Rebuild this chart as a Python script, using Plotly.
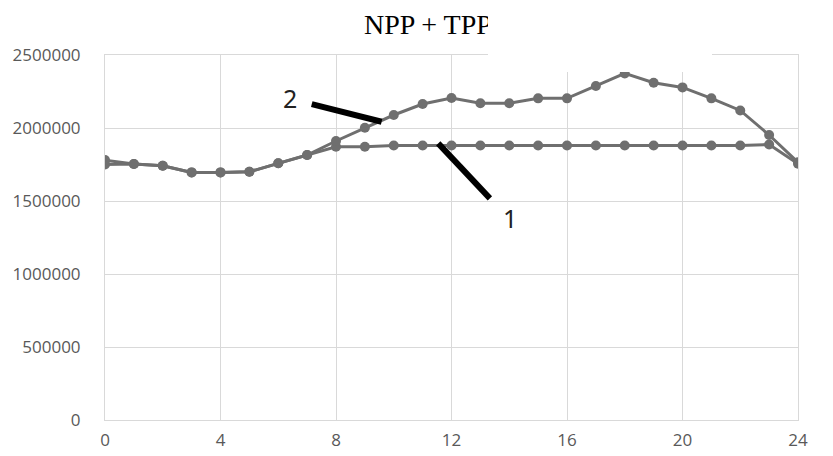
import plotly.graph_objects as go

hours = list(range(25))
series1 = [1750000, 1753000, 1742000, 1696000, 1696000, 1700000, 1758000, 1815000,
           1872000, 1872000, 1880000, 1880000, 1880000, 1880000, 1880000, 1880000,
           1880000, 1880000, 1880000, 1880000, 1880000, 1880000, 1880000, 1887000, 1755000]
series2 = [1780000, 1753000, 1742000, 1696000, 1696000, 1700000, 1758000, 1815000,
           1911000, 2002000, 2089000, 2164000, 2205000, 2169000, 2169000, 2203000,
           2203000, 2288000, 2374000, 2310000, 2278000, 2203000, 2120000, 1952000, 1765000]
y_ticks = [0, 500000, 1000000, 1500000, 2000000, 2500000]
x_ticks = [0, 4, 8, 12, 16, 20, 24]
title_text = "NPP + TPP"

gray = "#6f6f6f"
fig = go.Figure()
for name, vals in [("1", series1), ("2", series2)]:
    fig.add_trace(go.Scatter(
        x=hours, y=vals, mode="lines+markers", name=name,
        line=dict(color=gray, width=3),
        marker=dict(color=gray, size=10),
        showlegend=False,
    ))

grid = "#d9d9d9"
tickfont = dict(family="Open Sans", size=17, color="#595959")
fig.update_xaxes(range=[0, 24], tickvals=x_ticks, ticktext=[str(v) for v in x_ticks],
                 showgrid=True, gridcolor=grid, gridwidth=1, zeroline=False,
                 showline=True, linecolor=grid, mirror=True, ticks="",
                 tickfont=tickfont, ticklabelstandoff=5, automargin=False)
fig.update_yaxes(range=[0, 2500000], tickvals=y_ticks, ticktext=[str(v) for v in y_ticks],
                 showgrid=True, gridcolor=grid, gridwidth=1, zeroline=False,
                 showline=True, linecolor=grid, mirror=True, ticks="",
                 tickfont=tickfont, ticklabelstandoff=20, automargin=False)

# leader lines
fig.add_shape(type="line", xref="x", yref="y", x0=7.16, y0=2164000, x1=9.58, y1=2043000,
              line=dict(color="black", width=6))
fig.add_shape(type="line", xref="x", yref="y", x0=11.54, y0=1895000, x1=13.33, y1=1518000,
              line=dict(color="black", width=6))

lab_font = dict(family="Noto Sans", size=25, color="#222222")
fig.add_annotation(x=6.41, y=2205000, xref="x", yref="y", text="2", showarrow=False, font=lab_font)
fig.add_annotation(x=14.03, y=1384000, xref="x", yref="y", text="1", showarrow=False, font=lab_font)

# title
fig.add_annotation(x=(362 - 105) / 693, y=(420 - 25) / 365, xref="paper", yref="paper",
                   xanchor="left", yanchor="middle", text=title_text, showarrow=False,
                   font=dict(family="Liberation Serif", size=28, color="black"))
# white box occluding part of title (as in reference)
fig.add_annotation(x=(488 - 105) / 693, y=420 / 365, xref="paper", yref="paper",
                   xanchor="left", yanchor="top", text=" ", showarrow=False,
                   width=224, height=72, bgcolor="white", borderpad=0, borderwidth=0)

fig.update_layout(
    width=833, height=456,
    margin=dict(l=97, r=43, t=47, b=44),
    paper_bgcolor="white", plot_bgcolor="white",
)
fig.write_html("out.html")
